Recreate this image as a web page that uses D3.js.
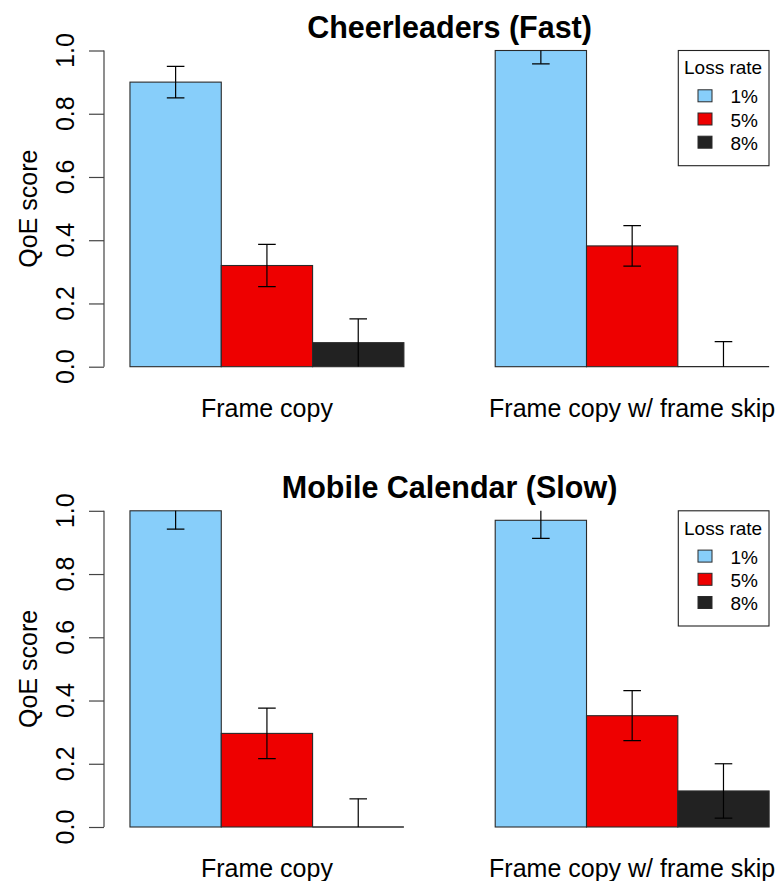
<!DOCTYPE html>
<html>
<head>
<meta charset="utf-8">
<script src="https://cdn.jsdelivr.net/npm/d3@7"></script>
<style>
  html, body { margin: 0; padding: 0; background: #fff; }
  svg { display: block; }
  text { font-family: "Liberation Sans", Arial, sans-serif; fill: #000; }
</style>
</head>
<body>
<svg id="chart" width="781" height="881"></svg>
<script>
// ---------------- data ----------------
const categories = ["Frame copy", "Frame copy w/ frame skip"];
const lossRates = ["1%", "5%", "8%"];
const yTicks = [0, 0.2, 0.4, 0.6, 0.8, 1.0];
const panelTitles = ["Cheerleaders (Fast)", "Mobile Calendar (Slow)"];

// Cheerleaders (Fast): values per loss rate, across the two categories
const cheerLoss1 = [0.90, 1.00];
const cheerLoss5 = [0.32, 0.382];
const cheerLoss8 = [0.076, 0.0];
const cheerErr1 = [0.050, 0.042];
const cheerErr5 = [0.067, 0.064];
const cheerErr8 = [0.075, 0.079];

// Mobile Calendar (Slow)
const calLoss1 = [1.00, 0.970];
const calLoss5 = [0.296, 0.352];
const calLoss8 = [0.0, 0.114];
const calErr1 = [0.058, 0.057];
const calErr5 = [0.080, 0.079];
const calErr8 = [0.089, 0.086];

const seriesColors = ["#87CEFA", "#EE0000", "#222222"];

// --------------- layout ---------------
const svg = d3.select("#chart");

const panels = [
  { title: panelTitles[0], values: [cheerLoss1, cheerLoss5, cheerLoss8], errs: [cheerErr1, cheerErr5, cheerErr8], top: 0 },
  { title: panelTitles[1], values: [calLoss1, calLoss5, calLoss8], errs: [calErr1, calErr5, calErr8], top: 460.3 }
];

// bar slot coordinate (R barplot style: groups of 3 bars with a 1-bar gap)
const x = d3.scaleLinear().domain([0.72, 8.28]).range([104.4, 794.7]);

panels.forEach((p, pi) => {
  const g = svg.append("g").attr("transform", `translate(0,${p.top})`);
  const y = d3.scaleLinear().domain([0, 1]).range([366.7, 50.5]);

  const clipId = "clip" + pi;
  g.append("clipPath").attr("id", clipId)
    .append("rect").attr("x", 0).attr("y", y(1)).attr("width", 781).attr("height", 400);

  // title
  g.append("text")
    .attr("x", x((0.72 + 8.28) / 2)).attr("y", 38)
    .attr("text-anchor", "middle")
    .style("font-size", "30.5px").style("font-weight", "bold")
    .text(p.title);

  // y axis
  const yAxis = d3.axisLeft(y).tickValues(yTicks).tickSize(15).tickFormat(d3.format(".1f"));
  const ax = g.append("g").attr("transform", `translate(104,0)`).call(yAxis);
  ax.select(".domain").attr("stroke", "#444").attr("stroke-width", 1.2).attr("d", `M0,${y(0)}V${y(1)}`);
  ax.selectAll(".tick line").attr("stroke", "#444").attr("stroke-width", 1.2);
  ax.selectAll(".tick text").remove();
  // rotated tick labels
  g.selectAll(".ylab").data(yTicks).enter().append("text")
    .attr("transform", d => `translate(74,${y(d)}) rotate(-90)`)
    .attr("text-anchor", "middle")
    .style("font-size", "25px")
    .text(d => d3.format(".1f")(d));

  // y label
  g.append("text")
    .attr("transform", `translate(37,${(y(0) + y(1)) / 2}) rotate(-90)`)
    .attr("text-anchor", "middle")
    .style("font-size", "25px")
    .text("QoE score");

  // bars
  const bars = [];
  categories.forEach((c, ci) => {
    lossRates.forEach((lr, si) => {
      bars.push({ ci, si, v: p.values[si][ci], e: p.errs[si][ci], left: 1 + ci * 4 + si });
    });
  });

  g.selectAll(".bar").data(bars.filter(d => d.v > 0)).enter().append("rect")
    .attr("x", d => x(d.left))
    .attr("y", d => y(d.v))
    .attr("width", d => x(d.left + 1) - x(d.left))
    .attr("height", d => y(0) - y(d.v))
    .attr("fill", d => seriesColors[d.si])
    .attr("stroke", "#2a2a2a").attr("stroke-width", 1.1);
  // zero-height bars are drawn as a flat outline
  g.selectAll(".zbar").data(bars.filter(d => d.v <= 0)).enter().append("line")
    .attr("x1", d => x(d.left)).attr("x2", d => x(d.left + 1))
    .attr("y1", y(0)).attr("y2", y(0))
    .attr("stroke", "#2a2a2a").attr("stroke-width", 1.3);

  // error bars
  const eg = g.append("g").attr("clip-path", `url(#${clipId})`);
  bars.forEach(d => {
    const cx = x(d.left + 0.5);
    const lo = Math.max(0, d.v - d.e), hi = d.v + d.e;
    eg.append("line").attr("x1", cx).attr("x2", cx).attr("y1", y(lo)).attr("y2", y(hi))
      .attr("stroke", "#000").attr("stroke-width", 1.2);
    eg.append("line").attr("x1", cx - 8.8).attr("x2", cx + 8.8).attr("y1", y(hi)).attr("y2", y(hi))
      .attr("stroke", "#000").attr("stroke-width", 1.2);
    if (d.v - d.e > 0.005) {
      eg.append("line").attr("x1", cx - 8.8).attr("x2", cx + 8.8).attr("y1", y(lo)).attr("y2", y(lo))
        .attr("stroke", "#000").attr("stroke-width", 1.2);
    }
  });

  // category labels
  g.selectAll(".xlab").data(categories).enter().append("text")
    .attr("x", (d, i) => x(1 + i * 4 + 1.5))
    .attr("y", 416.5)
    .attr("text-anchor", "middle")
    .style("font-size", "25px")
    .text(d => d);

  // legend
  const lg = g.append("g");
  lg.append("rect").attr("x", 678.3).attr("y", 50.5).attr("width", 90.7).attr("height", 115.2)
    .attr("fill", "#fff").attr("stroke", "#222").attr("stroke-width", 1.1);
  lg.append("text").attr("x", 684).attr("y", 74.3).style("font-size", "19px").text("Loss rate");
  lossRates.forEach((lr, si) => {
    const base = 103.3 + si * 23.2;
    lg.append("rect").attr("x", 698).attr("y", base - 13.5).attr("width", 14).attr("height", 12)
      .attr("fill", seriesColors[si]).attr("stroke", "#2a2a2a").attr("stroke-width", 1);
    lg.append("text").attr("x", 730.5).attr("y", base).style("font-size", "19px").text(lr);
  });
});
</script>
</body>
</html>
